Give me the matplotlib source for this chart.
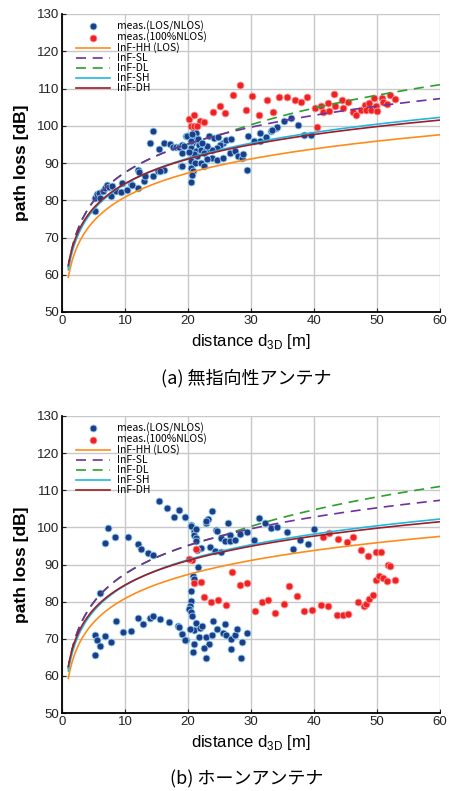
import numpy as np
import matplotlib
matplotlib.use("Agg")
import matplotlib.pyplot as plt

plt.rcParams['font.family'] = ['Liberation Sans', 'Noto Sans CJK JP', 'DejaVu Sans']

# ---------------- data ----------------
# 3GPP InF path-loss models: PL = a + b*log10(d) + c*log10(fc)
fc_ghz = 28.0
model_names = ["InF-HH (LOS)", "InF-SL", "InF-DL", "InF-SH", "InF-DH"]
model_a = [31.84, 33.0, 18.6, 32.4, 33.63]
model_b = [21.5, 25.5, 35.7, 23.0, 21.9]
model_c = [19.0, 20.0, 20.0, 20.0, 20.0]
model_colors = ["#ff8c1a", "#7030a0", "#2ca02c", "#1fb8e0", "#a01c28"]
model_styles = ["-", (0, (6, 4)), (0, (6, 4)), "-", "-"]

# (a) omni antenna
a_los_d = [5.2, 5.3, 5.6, 5.9, 6.0, 6.5, 6.8, 7.2, 7.4, 7.7, 8.0, 8.5, 9.3, 9.5, 10.3,
           10.9, 11.1, 12.1, 12.1, 12.3, 13.0, 13.2, 14.4, 15.2, 16.2, 13.9, 14.5, 15.4,
           16.2, 17.1, 17.6, 18.1, 18.6, 19.1, 19.7, 18.9, 15.6, 19.0,
           19.8, 20.9, 21.2, 20.9, 21.4, 20.7, 21.7, 20.4, 21.2, 22.0, 20.7, 21.5, 20.4,
           21.1, 20.4, 20.8, 20.4, 20.6, 19.1, 19.4, 22.8, 23.4, 24.1, 24.8, 25.6, 26.1,
           26.9, 25.1, 24.6, 23.8, 23.0, 22.5, 23.8, 24.6, 25.6, 26.6, 27.4, 27.9, 28.5,
           28.8, 29.5, 31.4, 32.4, 33.2, 34.0, 29.4, 23.0, 22.0, 22.5, 20.4, 21.0, 20.6,
           35.2, 34.2, 36.4, 37.4, 38.4, 39.5, 33.3, 32.4, 31.5, 30.5, 20.2, 21.6, 22.3]
a_los_pl = [77.2, 80.7, 81.6, 82.0, 80.5, 82.5, 83.4, 84.1, 83.5, 81.2, 83.8, 82.5, 82.3, 84.7, 82.7,
            84.4, 84.1, 88.0, 83.2, 87.6, 85.1, 86.6, 86.6, 87.8, 88.0, 95.5, 98.6, 93.7,
            95.3, 95.1, 94.4, 94.2, 94.4, 94.9, 97.3, 89.1, 87.8, 89.2,
            97.3, 98.9, 98.0, 96.7, 95.8, 95.4, 94.9, 94.0, 93.2, 93.6, 92.3, 91.8, 90.5,
            89.9, 88.7, 87.8, 84.9, 86.9, 92.7, 94.5, 93.5, 97.2, 96.7, 96.9, 95.4, 96.3,
            96.4, 94.9, 94.0, 93.4, 94.5, 92.7, 91.4, 90.8, 91.4, 92.7, 93.2, 91.8, 91.4,
            92.3, 97.2, 95.8, 96.7, 98.5, 99.4, 88.0, 91.1, 90.0, 89.2, 96.0, 92.5, 97.8,
            101.3, 99.6, 102.0, 100.3, 97.4, 97.4, 98.9, 96.9, 98.0, 95.8, 93.0, 96.5, 95.5]
a_nlos_d = [28.2, 27.1, 30.2, 25.0, 23.9, 25.9, 31.3, 33.5, 29.2, 32.5, 34.5, 35.7, 37.0,
            37.9, 38.9, 40.1, 40.4, 41.1, 41.4, 42.2, 42.4, 43.2, 43.4, 44.4, 44.6, 45.4,
            46.2, 46.6, 47.5, 48.1, 48.3, 48.7, 49.1, 49.8, 50.0, 49.6, 50.8, 50.9, 51.6,
            52.0, 52.8, 20.2, 20.9, 21.9, 22.6, 20.4, 20.9, 21.5]
a_nlos_pl = [110.9, 108.3, 108.1, 105.3, 103.6, 103.4, 102.9, 103.6, 104.1, 106.9, 107.6, 107.6, 106.9,
             106.3, 107.8, 104.7, 99.6, 105.2, 103.8, 106.0, 104.0, 108.5, 105.2, 106.9, 104.7, 106.3,
             103.8, 102.9, 104.3, 105.6, 104.3, 106.0, 104.3, 105.2, 104.0, 107.4, 107.4, 106.3, 105.8,
             108.3, 107.2, 101.8, 102.8, 101.4, 100.9, 100.0, 99.8, 100.0]

# (b) horn antenna
b_los_d = [15.4, 16.6, 17.7, 18.6, 19.6, 7.3, 6.8, 8.4, 10.4, 12.1, 12.6, 13.6, 14.4, 6.1,
           5.2, 5.5, 6.0, 5.2, 6.8, 7.7, 8.5, 9.7, 10.9, 12.0, 12.9, 13.9, 14.4, 15.5, 17.0,
           18.4, 18.6, 19.1, 19.7,
           19.6, 20.5, 20.9, 21.0, 21.2, 21.3, 22.0, 21.5, 22.9, 23.1, 23.8, 24.5, 25.2, 25.9,
           26.4, 26.6, 26.6, 27.4, 28.3, 29.4, 30.4, 31.2, 32.2, 33.2, 34.2, 23.5, 24.3, 25.2,
           21.6, 20.8, 20.9, 20.4, 20.4, 20.3, 20.2, 20.5, 20.6, 21.3, 20.9, 20.3, 21.9, 22.2,
           19.1, 19.6, 20.9, 20.8, 21.7, 22.9, 23.8, 23.4, 22.5, 22.8, 24.0, 24.6, 25.5, 25.9,
           26.1, 26.9, 27.4, 27.7, 28.6, 26.9, 28.4, 29.4, 35.7, 36.7, 37.8, 39.0, 40.0,
           20.5, 22.9, 21.2, 24.6]
b_los_pl = [107.1, 105.3, 102.7, 104.6, 102.8, 99.9, 95.7, 97.5, 97.5, 95.5, 94.2, 93.1, 92.5, 82.3,
            71.1, 69.6, 68.1, 65.6, 70.7, 69.1, 74.9, 71.8, 72.2, 75.5, 74.0, 75.5, 76.0, 75.3, 74.6,
            73.4, 73.1, 71.3, 69.6,
            102.9, 100.7, 98.9, 98.0, 97.2, 96.3, 94.5, 94.0, 101.2, 102.2, 104.5, 99.2, 97.2, 96.3,
            101.3, 98.0, 96.3, 96.7, 98.2, 98.8, 96.5, 102.5, 101.2, 99.8, 100.1, 94.8, 93.6, 93.4,
            89.4, 86.8, 86.2, 82.9, 80.3, 78.9, 77.9, 77.2, 76.1, 74.3, 72.3, 72.5, 72.9, 73.4,
            71.4, 69.6, 68.7, 66.5, 70.5, 70.5, 70.9, 68.7, 67.4, 64.7, 74.7, 72.7, 71.6, 74.0,
            70.9, 69.9, 70.9, 72.5, 69.2, 67.2, 64.9, 71.6, 98.8, 94.2, 96.7, 95.4, 99.6,
            100.4, 101.8, 99.5, 99.1]
b_nlos_d = [21.3, 20.7, 20.2, 20.9, 22.0, 22.6, 23.7, 24.8, 26.0, 27.0, 28.2, 29.4, 30.7, 31.7,
            32.7, 33.8, 35.2, 36.1, 37.3, 38.4, 39.7, 41.1, 42.3, 43.6, 44.6, 45.4, 41.4, 42.4,
            43.8, 45.2, 46.2, 47.5, 48.6, 49.8, 50.7, 51.7, 52.1, 47.0, 47.9, 48.2, 48.7, 49.3,
            49.8, 50.3, 50.9, 51.6, 52.8]
b_nlos_pl = [94.2, 91.2, 91.4, 85.0, 85.2, 81.2, 79.8, 80.5, 79.1, 88.1, 84.6, 85.0, 77.6, 79.8,
             80.4, 77.0, 79.4, 84.1, 81.4, 77.6, 77.8, 79.1, 78.9, 76.4, 76.5, 76.8, 97.4, 98.5,
             96.9, 96.1, 97.3, 94.0, 92.3, 93.4, 93.5, 89.8, 89.6, 79.8, 78.7, 79.4, 80.7, 81.8,
             85.9, 86.9, 86.3, 85.6, 85.9]

x_ticks = [0, 10, 20, 30, 40, 50, 60]
y_ticks = [50, 60, 70, 80, 90, 100, 110, 120, 130]
captions = ["(a) 無指向性アンテナ", "(b) ホーンアンテナ"]

# ---------------- plotting ----------------
fig = plt.figure(figsize=(4.49, 7.91), dpi=100)
W, H = 449, 791
axes_px = [(62, 14, 440, 312), (62, 416, 440, 713)]
panels = [(a_los_d, a_los_pl, a_nlos_d, a_nlos_pl), (b_los_d, b_los_pl, b_nlos_d, b_nlos_pl)]

d = np.linspace(1, 60, 400)
los = model_a[0] + model_b[0] * np.log10(d) + model_c[0] * np.log10(fc_ghz)
curves = []
for i in range(len(model_names)):
    pl = model_a[i] + model_b[i] * np.log10(d) + model_c[i] * np.log10(fc_ghz)
    curves.append(pl)
# NLOS models take max with LOS (and DL with SL)
curves[1] = np.maximum(curves[1], los)
curves[3] = np.maximum(curves[3], los)
curves[4] = np.maximum(curves[4], los)
curves[2] = np.maximum(curves[2], curves[1])

for k, ((x0, y0, x1, y1), (ld, lp, nd, npl)) in enumerate(zip(axes_px, panels)):
    ax = fig.add_axes([x0 / W, 1 - y1 / H, (x1 - x0) / W, (y1 - y0) / H])
    ax.set_xlim(0, 60)
    ax.set_ylim(50, 130)
    ax.set_xticks(x_ticks)
    ax.set_yticks(y_ticks)
    ax.grid(True, color="#c8c8c8", linewidth=1.0)
    ax.set_axisbelow(True)
    for s in ["top", "right"]:
        ax.spines[s].set_visible(False)
    for s in ["left", "bottom"]:
        ax.spines[s].set_linewidth(1.3)
    ax.tick_params(direction="in", length=3, labelsize=9.5, pad=2, colors="#222222")

    h1 = ax.scatter(ld, lp, s=25, color="#1f3c88", edgecolors="#8fd3f0", linewidths=0.6,
                    zorder=3, label="meas.(LOS/NLOS)")
    h2 = ax.scatter(nd, npl, s=25, color="#ee2222", edgecolors="#ff9a9a", linewidths=0.6,
                    zorder=3, label="meas.(100%NLOS)")
    order = [2, 1, 0, 3, 4]
    handles = {}
    for i in order:
        ln, = ax.plot(d, curves[i], color=model_colors[i], linestyle=model_styles[i],
                      linewidth=1.2, zorder=4, label=model_names[i])
        handles[i] = ln
    hs = [h1, h2] + [handles[i] for i in range(5)]
    leg = ax.legend(handles=hs, labels=[h.get_label() for h in hs], loc="upper left",
                    bbox_to_anchor=(0.02, 1.0), frameon=False,
                    prop={"family": ["Noto Sans CJK JP", "DejaVu Sans"], "size": 7.5},
                    handlelength=3.3, labelspacing=0.0, handletextpad=0.7,
                    borderaxespad=0.2, markerscale=1.0)
    ax.set_xlabel("distance d$_{\\mathregular{3D}}$ [m]", fontsize=12, labelpad=4)
    ax.set_ylabel("path loss [dB]", fontsize=12.5, labelpad=6, fontweight="bold")
    fig.text(0.5 * (x0 + x1) / W - 0.01, 1 - (y1 + 66) / H, captions[k], ha="center",
             va="center", fontsize=13,
             family=["Noto Sans CJK JP", "DejaVu Sans"])

fig.savefig("out.png", dpi=100, facecolor="white")
